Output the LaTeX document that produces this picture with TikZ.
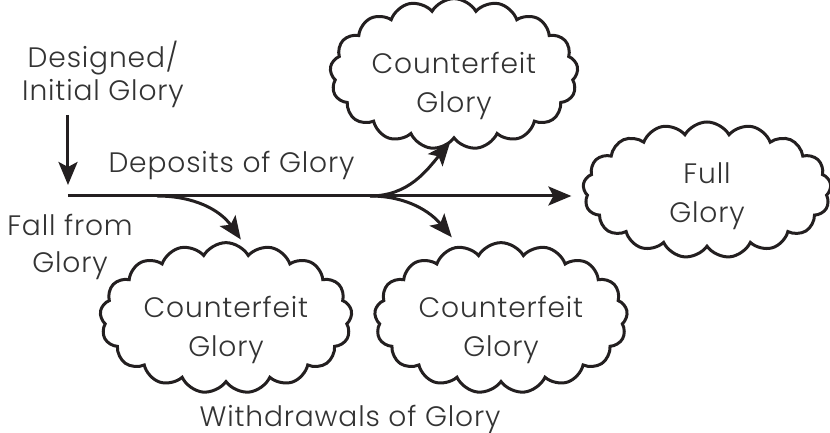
\documentclass[tikz,border=0pt]{standalone}
\usepackage{fontspec}
\setmainfont{Poppins}[UprightFont={* Light}, LetterSpace=3]
\usetikzlibrary{shapes.symbols,arrows.meta}
\definecolor{inkline}{HTML}{231F20}
\definecolor{inktext}{HTML}{333333}
\newcommand{\gloryfont}{\fontsize{8pt}{11pt}\selectfont}
\tikzset{
	glory/.style={draw=inkline, line width=0.3mm, cloud, cloud puffs=17, cloud puff arc=120,
		cloud ignores aspect, inner sep=0pt, align=center, text=inktext, font=\gloryfont,
		text height=23.8pt, text depth=2pt},
	flow/.style={draw=inkline, line width=0.3mm, -{Stealth[length=2.3mm,width=1.9mm,inset=0.5mm]}},
	caption/.style={text=inktext, font=\gloryfont, align=center, inner sep=0pt}
}
\begin{document}
\begin{tikzpicture}[scale=1]
		\useasboundingbox (0,0) rectangle (8.3,4.33);
		
		% clouds
		\node[glory, minimum width=2.48cm, minimum height=1.32cm] (fakeup) at (4.54,3.59) {Counterfeit\\Glory};
		\node[glory, text height=20.4pt, minimum width=2.48cm, minimum height=1.36cm] (full) at (7.07,2.43) {Full\\Glory};
		\node[glory, minimum width=2.52cm, minimum height=1.35cm] (fakeleft) at (2.26,1.15) {Counterfeit\\Glory};
		\node[glory, minimum width=2.53cm, minimum height=1.31cm] (fakemid) at (5.01,1.15) {Counterfeit\\Glory};
		
		% captions
		\node[caption, anchor=base, font=\fontsize{8pt}{9.4pt}\selectfont] (initial) at (1.03,3.32) {Designed/\\Initial Glory};
		\node[caption, anchor=base] (deposits) at (2.315,2.60) {Deposits of Glory};
		\node[caption, anchor=base, font=\fontsize{8pt}{10.8pt}\selectfont] (fall) at (0.70,1.60) {Fall from\\Glory};
		\node[caption, anchor=base] (withdrawals) at (3.50,0.06) {Withdrawals of Glory};
		
		\coordinate (o) at (0.68,2.37);
		\coordinate (b1) at (1.57,2.37);
		\coordinate (b2) at (3.70,2.37);
		
		% arrows
		\draw[flow, shorten <=0.06cm, shorten >=0.11cm] (initial.south -| o) -- (o);
		\draw[flow, shorten >=0.11cm] (o) -- (o -| full.west);
		\draw[flow, shorten >=0.02cm] (b1) to[out=0,in=125] ([xshift=0.16cm]fakeleft.north);
		\draw[flow, shorten >=0.03cm] (b2) to[out=0,in=-130] ([xshift=-0.02cm]fakeup.south);
		\draw[flow, shorten >=0.05cm] (b2) to[out=0,in=130] ([xshift=-0.46cm]fakemid.north);
	\end{tikzpicture}
\end{document}
